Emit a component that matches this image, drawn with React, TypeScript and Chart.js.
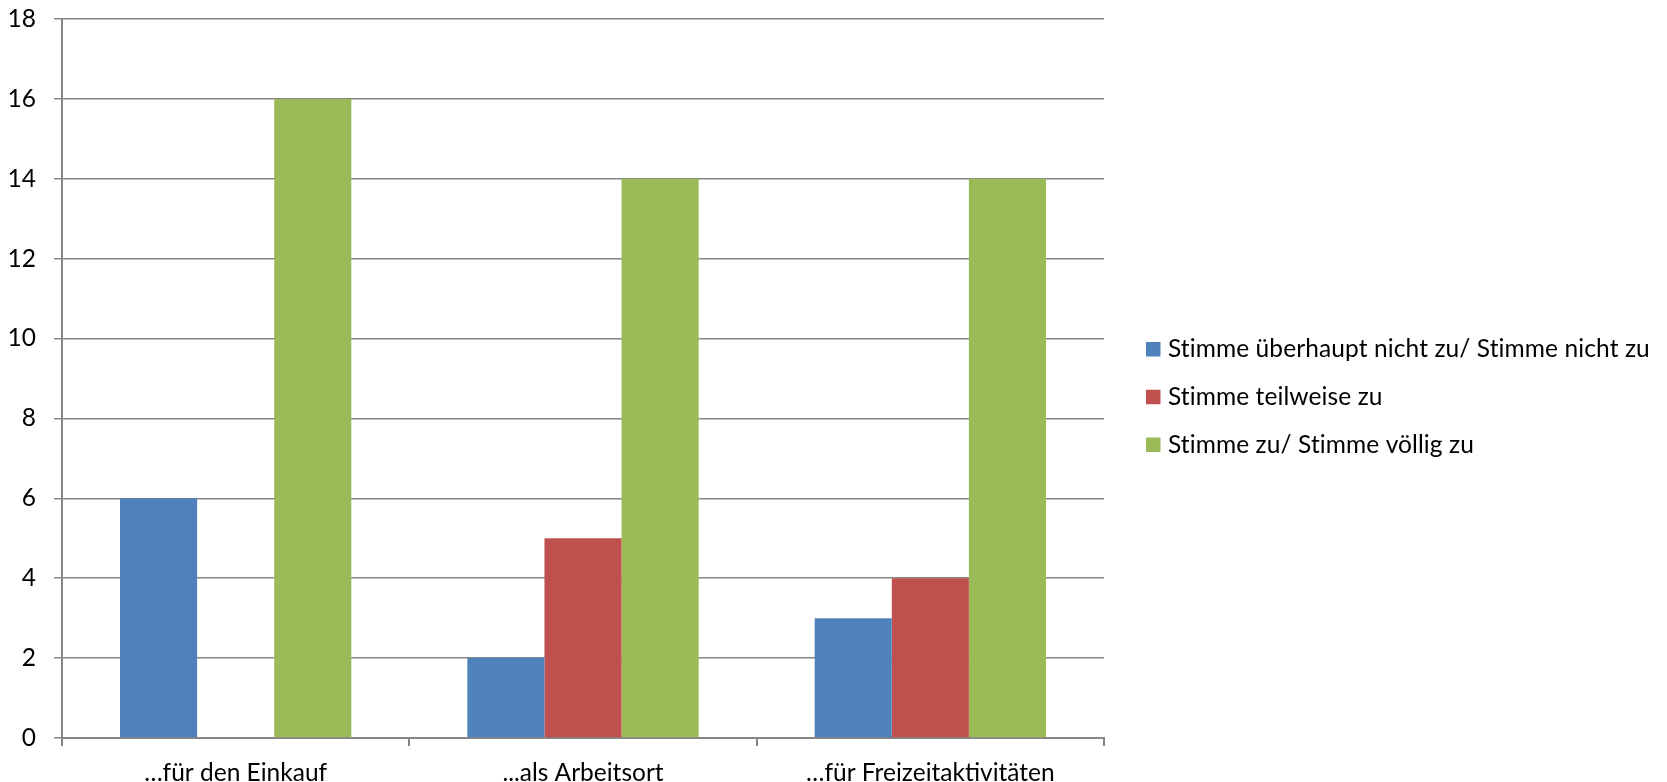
import React, { useEffect, useRef } from "react";
import { Chart, registerables } from "chart.js";

Chart.register(...registerables);

const categories = ["…für den Einkauf", "...als Arbeitsort", "…für Freizeitaktivitäten"];
const seriesNames = [
  "Stimme überhaupt nicht zu/ Stimme nicht zu",
  "Stimme teilweise zu",
  "Stimme zu/ Stimme völlig zu",
];
const disagreeValues = [6, 2, 3];
const partlyValues = [0, 5, 4];
const agreeValues = [16, 14, 14];
const yMin = 0;
const yMax = 18;
const yStep = 2;

const COLORS = ["#4F81BD", "#C0504D", "#9BBB59"];
const GRID = "#868686";
const FONT_FAMILY = "Lato, 'Open Sans', sans-serif";
const FONT_SIZE = 24.5;

const legendPlugin = {
  id: "sideLegend",
  afterDraw(chart: any) {
    const ctx = chart.ctx;
    ctx.save();
    ctx.font = `${FONT_SIZE}px ${FONT_FAMILY}`;
    ctx.textAlign = "left";
    ctx.textBaseline = "alphabetic";
    try {
      (ctx as any).letterSpacing = "0.1px";
    } catch (e) {}
    chart.data.datasets.forEach((ds: any, i: number) => {
      const top = 342 + i * 47.75;
      ctx.fillStyle = ds.backgroundColor;
      ctx.fillRect(1146, top, 14.5, 14.5);
      ctx.fillStyle = "#000";
      ctx.fillText(ds.label, 1168, top + 15);
    });
    ctx.restore();
  },
};

export default function App() {
  const ref = useRef<HTMLCanvasElement | null>(null);
  useEffect(() => {
    if (!ref.current) return;
    const chart = new Chart(ref.current, {
      type: "bar",
      data: {
        labels: categories,
        datasets: [
          { label: seriesNames[0], data: disagreeValues, backgroundColor: COLORS[0] },
          { label: seriesNames[1], data: partlyValues, backgroundColor: COLORS[1] },
          { label: seriesNames[2], data: agreeValues, backgroundColor: COLORS[2] },
        ],
      },
      options: {
        responsive: false,
        animation: false,
        devicePixelRatio: 1,
        layout: { padding: { left: 0, top: 19, right: 563, bottom: 0 } },
        datasets: { bar: { categoryPercentage: 0.666, barPercentage: 1.0, borderWidth: 0 } },
        plugins: { legend: { display: false }, tooltip: { enabled: false } },
        scales: {
          x: {
            offset: true,
            grid: {
              offset: true,
              drawOnChartArea: false,
              drawTicks: true,
              tickLength: 8,
              color: GRID,
              lineWidth: 2,
            },
            border: { display: true, color: GRID, width: 2 },
            ticks: {
              color: "#000",
              padding: 12,
              font: { family: FONT_FAMILY, size: FONT_SIZE },
              maxRotation: 0,
            },
            afterFit: (scale: any) => {
              scale.height = 44;
            },
          },
          y: {
            min: yMin,
            max: yMax,
            grid: {
              color: GRID,
              lineWidth: 1.5,
              tickLength: 8,
              drawTicks: true,
            },
            border: { display: true, color: GRID, width: 2 },
            ticks: {
              stepSize: yStep,
              color: "#000",
              padding: 18,
              font: { family: FONT_FAMILY, size: FONT_SIZE },
            },
            afterFit: (scale: any) => {
              scale.width = 62;
              scale.paddingTop = 0;
              scale.paddingBottom = 0;
            },
          },
        },
      },
      plugins: [legendPlugin],
    });
    return () => chart.destroy();
  }, []);

  return (
    <div style={{ position: "absolute", left: 0, top: 0, width: 1667, height: 782, background: "#fff" }}>
      <canvas ref={ref} width={1667} height={782} style={{ display: "block", width: 1667, height: 782 }} />
    </div>
  );
}
